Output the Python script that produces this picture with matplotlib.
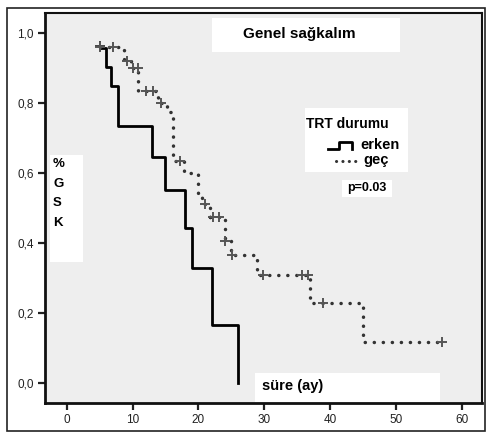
import matplotlib
matplotlib.use("Agg")
import matplotlib.pyplot as plt
from matplotlib.patches import Rectangle
from matplotlib.lines import Line2D
import numpy as np

plt.rcParams['font.family'] = ['Liberation Sans', 'DejaVu Sans']
plt.rcParams['lines.scale_dashes'] = False

# ---- data ----
erken_times = [5.0, 5.9, 6.8, 7.8, 13.0, 15.0, 18.0, 19.0, 22.1, 26.1]
erken_surv  = [0.957, 0.904, 0.849, 0.734, 0.645, 0.551, 0.443, 0.329, 0.166, 0.0]
erken_cens_t = [5.0]
erken_cens_s = [0.962]

gec_times = [5.0, 8.7, 9.8, 10.9, 13.8, 15.2, 16.1, 17.8, 20.0, 20.6, 21.8, 24.0, 25.0, 28.9, 36.9, 45.0, 57.0]
gec_surv  = [0.96, 0.92, 0.90, 0.835, 0.80, 0.775, 0.635, 0.60, 0.535, 0.51, 0.475, 0.405, 0.365, 0.31, 0.23, 0.117, 0.117]
gec_cens_t = [5.0, 7.0, 9.1, 10.1, 10.8, 12.1, 13.1, 14.4, 17.2, 21.0, 22.2, 23.2, 24.0, 25.1, 29.8, 35.7, 36.6, 38.9, 57.0]
gec_cens_s = [0.96, 0.96, 0.92, 0.90, 0.90, 0.835, 0.835, 0.80, 0.635, 0.51, 0.475, 0.475, 0.405, 0.365, 0.31, 0.31, 0.31, 0.23, 0.117]

xticks = [0, 10, 20, 30, 40, 50, 60]
yticks = [0.0, 0.2, 0.4, 0.6, 0.8, 1.0]
ytick_labels = ["0,0", "0,2", "0,4", "0,6", "0,8", "1,0"]

W, H = 487, 432
fig = plt.figure(figsize=(W/100, H/100), dpi=100)
fig.patch.set_facecolor('white')

def fx(px):
    return px / W
def fy(py):
    return 1 - py / H

L, R, T, B = 45, 482, 13, 403
ax = fig.add_axes([fx(L), fy(B), fx(R) - fx(L), fy(T) - fy(B)])
ax.set_facecolor('#eeeeee')

# outer frame
fig.add_artist(Rectangle((fx(7), fy(431)), fx(485) - fx(7), fy(8) - fy(431),
                         transform=fig.transFigure, fill=False, edgecolor='#222222', lw=1.2))

# curves
ax.step(erken_times, erken_surv, where='post', color='black', lw=2.0, zorder=4)
ax.plot(erken_cens_t, erken_cens_s, ls='none', marker='+', ms=7, mew=1.4, color='#444444', zorder=5)

ax.step(gec_times, gec_surv, where='post', color='#333333', lw=2.5,
        ls=(0, (0.1, 6.4)), dash_capstyle='round', zorder=4)
ax.plot(gec_cens_t, gec_cens_s, ls='none', marker='+', ms=7, mew=1.4, color='#555555', zorder=5)

ax.set_xlim(-3.3, 63.1)
ax.set_ylim(-0.057, 1.057)
ax.set_xticks(xticks)
ax.set_yticks(yticks)
ax.set_yticklabels(ytick_labels)
ax.tick_params(axis='both', direction='out', length=5, width=1.6, color='#222222',
               labelsize=8.5, labelcolor='#222222', pad=3)
for s in ['left', 'bottom']:
    ax.spines[s].set_linewidth(2.0)
for s in ['top', 'right']:
    ax.spines[s].set_linewidth(1.5)
for s in ax.spines.values():
    s.set_color('#111111')

def box(x0, y0, x1, y1):
    fig.add_artist(Rectangle((fx(x0), fy(y1)), fx(x1) - fx(x0), fy(y0) - fy(y1),
                             transform=fig.transFigure, facecolor='white', edgecolor='none', zorder=6))

# title box
box(212, 18, 400, 52)
fig.text(fx(243), fy(34), "Genel sağkalım", fontsize=11, fontweight='bold', ha='left', va='center', zorder=7)

# legend box
box(305, 108, 408, 172)
fig.text(fx(306), fy(124), "TRT durumu", fontsize=10, fontweight='bold', ha='left', va='center', zorder=7)
fig.text(fx(360), fy(145), "erken", fontsize=10.5, fontweight='bold', ha='left', va='center', zorder=7)
fig.text(fx(363), fy(160), "geç", fontsize=10.5, fontweight='bold', ha='left', va='center', zorder=7)
# legend samples
fig.add_artist(Line2D([fx(328), fx(339), fx(339), fx(352), fx(352)],
                      [fy(149), fy(149), fy(142), fy(142), fy(149)],
                      transform=fig.transFigure, color='black', lw=2.0, zorder=7))
fig.add_artist(Line2D([fx(336), fx(358)], [fy(161), fy(161)],
                      transform=fig.transFigure, color='#333333', lw=2.2,
                      ls=(0, (0.1, 4.5)), dash_capstyle='round', zorder=7))

# p box
box(342, 180, 392, 197)
fig.text(fx(367), fy(188), "p=0.03", fontsize=9, fontweight='bold', ha='center', va='center', zorder=7)

# y label box
box(50, 155, 83, 262)
for i, ch in enumerate(["%", "G", "S", "K"]):
    fig.text(fx(53), fy(164 + i * 19.5), ch, fontsize=9.5, fontweight='bold', ha='left', va='center', zorder=7)

# x label box
box(255, 373, 440, 402)
fig.text(fx(262), fy(386), "süre (ay)", fontsize=10.5, fontweight='bold', ha='left', va='center', zorder=7)

fig.savefig("out.png", dpi=100)
